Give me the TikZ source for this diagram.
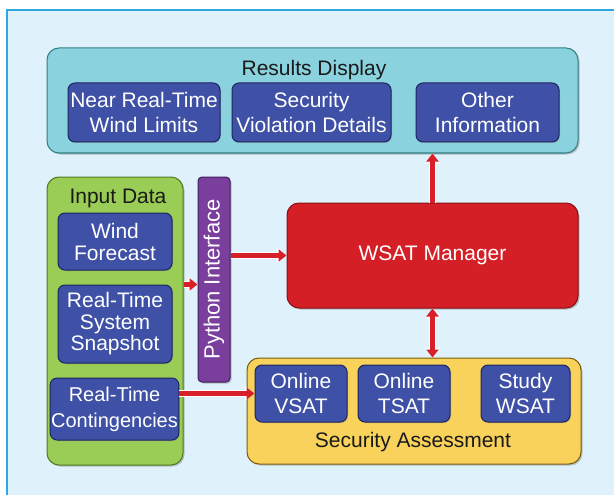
\documentclass[tikz,border=0pt]{standalone}
\usepackage{fontspec}
\setmainfont{Liberation Sans}
\usetikzlibrary{arrows.meta,shadows}

\definecolor{bgblue}{HTML}{DFF1FA}
\definecolor{frameblue}{HTML}{2EA6E0}
\definecolor{cyanbox}{HTML}{8AD3DE}
\definecolor{cyanline}{HTML}{2F7F85}
\definecolor{navy}{HTML}{3F51A6}
\definecolor{navyline}{HTML}{1E2560}
\definecolor{greenbox}{HTML}{9ACD55}
\definecolor{greenline}{HTML}{4E7A22}
\definecolor{purplebox}{HTML}{7A3E9D}
\definecolor{purpleline}{HTML}{3F1E5C}
\definecolor{redbox}{HTML}{D41F27}
\definecolor{redline}{HTML}{8A1015}
\definecolor{yellowbox}{HTML}{F8D25B}
\definecolor{yellowline}{HTML}{7A5E10}
\definecolor{arrowred}{HTML}{D82028}
\definecolor{titletext}{HTML}{1A1A1A}

\begin{document}
\begin{tikzpicture}[x=1pt, y=-1pt,
    every node/.style={font=\fontsize{21}{25}\selectfont},
    panel/.style={rectangle, rounded corners=12pt, line width=1pt,
        drop shadow={shadow xshift=1.5pt, shadow yshift=-1.5pt, opacity=0.45}},
    item/.style={rectangle, rounded corners=7pt, fill=navy, draw=navyline,
        line width=1pt, text=white, align=center, inner sep=1pt,
        drop shadow={shadow xshift=1pt, shadow yshift=-1pt, opacity=0.4}},
    title/.style={anchor=base, text=titletext, font=\fontsize{21}{24}\selectfont},
    flow/.style={draw=arrowred, line width=4.5pt, -{Triangle[length=8pt,width=12pt]},
        preaction={draw=white, line width=7pt, -{Triangle[length=10pt,width=15pt]}}},
    twoflow/.style={draw=arrowred, line width=4.5pt, {Triangle[length=8pt,width=12pt]}-{Triangle[length=8pt,width=12pt]},
        preaction={draw=white, line width=7pt, {Triangle[length=10pt,width=15pt]}-{Triangle[length=10pt,width=15pt]}}}]
    \useasboundingbox (0,0) rectangle (614,495);
    \clip (0,0) rectangle (614,495);

    % Background frame
    \fill[bgblue] (7,10) rectangle (620,500);
    \draw[frameblue, line width=2.5pt] (7,500) -- (7,10) -- (620,10);

    % Results display
    \node[panel, fill=cyanbox, draw=cyanline, minimum width=531pt, minimum height=105pt] (results) at (312.5,100.5) {};
    \node[title] (resultstitle) at (314,76) {Results Display};
    \node[item, minimum width=152pt, minimum height=59pt] (nearwind) at (144,112.5) {Near Real-Time\\Wind Limits};
    \node[item, minimum width=159pt, minimum height=59pt] (violation) at (311.5,112.5) {Security\\Violation Details};
    \node[item, minimum width=143pt, minimum height=59pt] (other) at (487.5,112.5) {Other\\Information};

    % Input data
    \node[panel, fill=greenbox, draw=greenline, minimum width=136pt, minimum height=288pt] (input) at (115,321) {};
    \node[title] (inputtitle) at (118,203) {Input Data};
    \node[item, minimum width=114pt, minimum height=57pt, font=\fontsize{21}{22}\selectfont] (wind) at (115,241.5) {Wind\\Forecast};
    \node[item, minimum width=114pt, minimum height=78pt, font=\fontsize{21}{21.5}\selectfont] (snapshot) at (115,324) {Real-Time\\System\\Snapshot};
    \node[item, minimum width=125pt, minimum height=62pt, font=\fontsize{20}{26}\selectfont] (contin) at (114.5,409) {Real-Time\\Contingencies};

    % Python interface
    \node[panel, rounded corners=4pt, fill=purplebox, draw=purpleline, text=white, rotate=90,
        minimum width=205pt, minimum height=32pt, inner sep=0pt, font=\fontsize{22}{24}\selectfont] (python) at (214,279.5) {Python Interface};

    % WSAT manager
    \node[panel, fill=redbox, draw=redline, text=white, minimum width=291pt, minimum height=105pt] (wsat) at (432.5,255.5) {WSAT Manager};

    % Security assessment
    \node[panel, fill=yellowbox, draw=yellowline, minimum width=334pt, minimum height=106pt] (secure) at (414,411) {};
    \node[title] (securetitle) at (413,447) {Security Assessment};
    \node[item, minimum width=92pt, minimum height=57pt] (vsat) at (301,393.5) {Online\\VSAT};
    \node[item, minimum width=92pt, minimum height=57pt] (tsat) at (404,393.5) {Online\\TSAT};
    \node[item, minimum width=89pt, minimum height=57pt] (study) at (525.5,393.5) {Study\\WSAT};

    % Connectors (python is turned, so its north side faces left)
    \draw[flow] (snapshot.north -| input.east) -- (snapshot.north -| python.north);
    \draw[flow] (python.south |- wsat.west) -- (wsat.west);
    \draw[flow] (vsat.west -| contin.east) -- (vsat.west);
    \draw[flow] (wsat.north) -- (wsat.north |- results.south);
    \draw[twoflow] (wsat.south) -- (wsat.south |- secure.north);
\end{tikzpicture}
\end{document}
